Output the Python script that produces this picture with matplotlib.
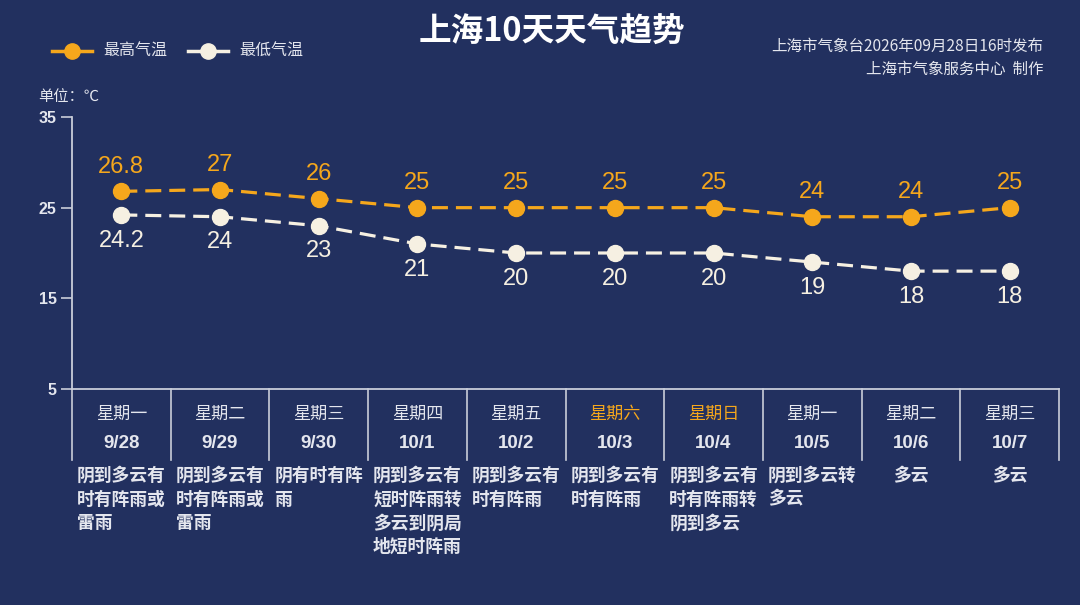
import matplotlib
matplotlib.use("Agg")
import matplotlib.pyplot as plt
from matplotlib.lines import Line2D
import matplotlib.transforms as mtrans

plt.rcParams['font.family'] = ['Noto Sans CJK SC', 'DejaVu Sans']
NUMF = ['Liberation Sans', 'DejaVu Sans']

weekdays = ["星期一", "星期二", "星期三", "星期四", "星期五", "星期六", "星期日", "星期一", "星期二", "星期三"]
dates = ["9/28", "9/29", "9/30", "10/1", "10/2", "10/3", "10/4", "10/5", "10/6", "10/7"]
weather = ["阴到多云有\n时有阵雨或\n雷雨", "阴到多云有\n时有阵雨或\n雷雨", "阴有时有阵\n雨",
           "阴到多云有\n短时阵雨转\n多云到阴局\n地短时阵雨", "阴到多云有\n时有阵雨", "阴到多云有\n时有阵雨",
           "阴到多云有\n时有阵雨转\n阴到多云", "阴到多云转\n多云", "多云", "多云"]
high = [26.8, 27, 26, 25, 25, 25, 25, 24, 24, 25]
low = [24.2, 24, 23, 21, 20, 20, 20, 19, 18, 18]
high_labels = ["26.8", "27", "26", "25", "25", "25", "25", "24", "24", "25"]
low_labels = ["24.2", "24", "23", "21", "20", "20", "20", "19", "18", "18"]
yticks = [5, 15, 25, 35]

BG = '#22305F'
ORANGE = '#F5A71C'
CREAM = '#F6F0E2'
LINEC = '#C9CDD9'
TXT = '#E4E6EE'

W, H = 1080, 605
fig = plt.figure(figsize=(10.8, 6.05), dpi=100, facecolor=BG)
ax = fig.add_axes([72 / W, 1 - 389 / H, (1059 - 72) / W, (389 - 117) / H])
ax.set_facecolor(BG)

n = len(dates)
xs = [i + 0.5 for i in range(n)]
ax.set_xlim(0, n)
ax.set_ylim(5, 35)

ax.plot(xs, high, color=ORANGE, lw=2.3, ls=(0, (5, 2.5)), marker='o', ms=11.5,
        mfc=ORANGE, mec=ORANGE, zorder=3)
ax.plot(xs, low, color=CREAM, lw=2.3, ls=(0, (5, 2.5)), marker='o', ms=11.5,
        mfc=CREAM, mec=CREAM, zorder=3)

for x, v, s in zip(xs, high, high_labels):
    ax.annotate(s, (x, v), xytext=(0, 17.5), textcoords='offset points', ha='center', va='center',
                color=ORANGE, fontsize=17, family=NUMF)
for x, v, s in zip(xs, low, low_labels):
    ax.annotate(s, (x, v), xytext=(0, -18.5), textcoords='offset points', ha='center', va='center',
                color=CREAM, fontsize=17, family=NUMF)

for sp in ['top', 'right']:
    ax.spines[sp].set_visible(False)
for sp in ['left', 'bottom']:
    ax.spines[sp].set_color(LINEC)
    ax.spines[sp].set_linewidth(1.3)

ax.set_yticks(yticks)
ax.set_yticklabels([str(t) for t in yticks], color=TXT, fontsize=11.5, fontweight='bold', family=NUMF)
ax.tick_params(axis='y', length=8, width=1.2, color=LINEC, pad=3)
ax.set_xticks([])

# table below axis
trans = mtrans.blended_transform_factory(ax.transData, ax.transAxes)
tb = -(460 - 389) / (389 - 117)
for i in range(n + 1):
    ax.add_line(Line2D([i, i], [0, tb], transform=trans, color=LINEC, lw=1.2, clip_on=False))

def yfrac(py):
    return (389 - py) / (389 - 117)

for i in range(n):
    c = ORANGE if weekdays[i] in ("星期六", "星期日") else TXT
    ax.text(xs[i], yfrac(414), weekdays[i], transform=trans, ha='center', va='center',
            color=c, fontsize=12.3, fontweight='medium')
    ax.text(xs[i], yfrac(444), dates[i], transform=trans, ha='center', va='center',
            color=TXT, fontsize=13.5, fontweight='bold', family=NUMF)
    ax.text(xs[i], yfrac(467), weather[i], transform=trans, ha='center', va='top',
            multialignment='left', color=TXT, fontsize=12.8, fontweight='bold', linespacing=1.4)

# title and annotations
fig.text(552 / W, 1 - 32 / H, "上海10天天气趋势", ha='center', va='center', color='white',
         fontsize=23.5, fontweight='bold')
fig.text(1043 / W, 1 - 46 / H, "上海市气象台2026年09月28日16时发布", ha='right', va='center',
         color=TXT, fontsize=11.2)
fig.text(1043 / W, 1 - 69 / H, "上海市气象服务中心  制作", ha='right', va='center',
         color=TXT, fontsize=11.2)
fig.text(38 / W, 1 - 97 / H, "单位：℃", ha='left', va='center', color=TXT, fontsize=11)

# legend
ly = 1 - 51 / H
for (x0, x1, col, lab, tx) in [(52, 92, ORANGE, "最高气温", 103), (188, 228, CREAM, "最低气温", 239)]:
    fig.add_artist(Line2D([x0 / W, (x0 + x1) / 2 / W, x1 / W], [ly, ly, ly], color=col, lw=2.5,
                          marker='o', ms=11, markevery=[1], mfc=col, mec=col))
    fig.text(tx / W, ly, lab, ha='left', va='center', color=TXT, fontsize=11.5)

fig.savefig("out.png", dpi=100, facecolor=BG)
